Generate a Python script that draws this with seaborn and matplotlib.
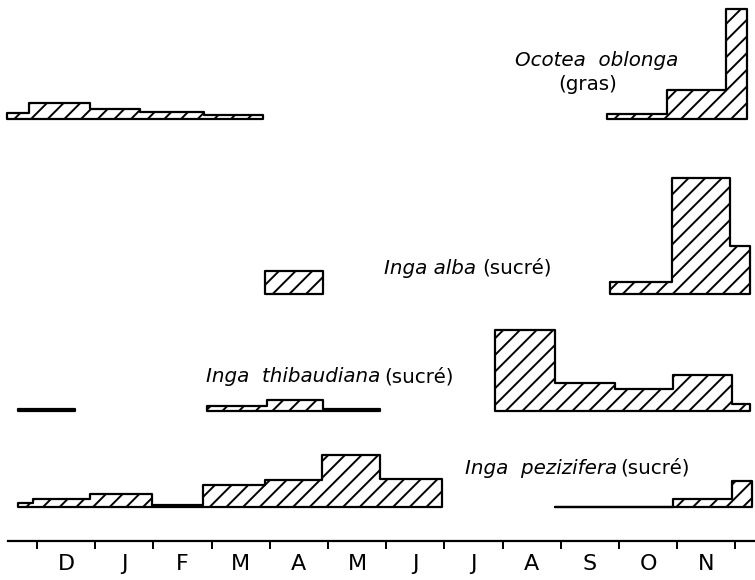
import matplotlib
matplotlib.use("Agg")
import matplotlib.pyplot as plt
import seaborn as sns
import numpy as np
import pandas as pd

sns.set_theme(style="white")
plt.rcParams['font.family'] = ['DejaVu Sans']
plt.rcParams['hatch.linewidth'] = 1.4

# ---- data (x in months, D = 0 ... N = 11; heights in arbitrary units) ----
months = ["D", "J", "F", "M", "A", "M", "J", "J", "A", "S", "O", "N"]

ocotea_left_edges = [-0.52, -0.14, 0.91, 1.77, 2.87, 3.88]
ocotea_left_vals = [6, 16, 10, 7, 4.5]
ocotea_right_edges = [9.79, 10.82, 11.84, 12.2]
ocotea_right_vals = [5, 29, 110]

alba_mid_edges = [3.92, 4.91]
alba_mid_vals = [23]
alba_right_edges = [9.85, 10.91, 11.91, 12.25]
alba_right_vals = [12, 116, 48]

thib_left_edges = [-0.33, 0.65]
thib_left_vals = [2.5]
thib_mid_edges = [2.92, 3.95, 4.91, 5.89]
thib_mid_vals = [5, 11, 2.5]
thib_right_edges = [7.87, 8.9, 9.93, 10.93, 11.94, 12.25]
thib_right_vals = [81, 28, 22, 36, 7]

pez_left_edges = [-0.33, -0.07, 0.91, 1.98, 2.85, 3.92, 4.90, 5.89, 6.96]
pez_left_vals = [4, 8, 13, 2, 22, 27, 52, 28]
pez_right_edges = [8.9, 10.93, 11.94, 12.29]
pez_right_vals = [0, 8, 26]

W, H = 755, 580
X0, X1 = -0.636, 12.337

fig = plt.figure(figsize=(W / 100, H / 100), dpi=100)


def row_axes(base_px):
    ax = fig.add_axes([0, (H - (base_px + 5)) / H, 1, 140 / H])
    return ax


def draw(ax, edges, vals):
    edges = [float(e) for e in edges]
    centers = [(a + b) / 2 for a, b in zip(edges[:-1], edges[1:])]
    df = pd.DataFrame({"x": centers, "w": [float(v) for v in vals]})
    sns.histplot(data=df, x="x", weights="w", bins=edges, element="step",
                 fill=True, facecolor="white", edgecolor="black",
                 linewidth=1.6, hatch="//", ax=ax, legend=False)


rows = [
    (119, [(ocotea_left_edges, ocotea_left_vals), (ocotea_right_edges, ocotea_right_vals)]),
    (294, [(alba_mid_edges, alba_mid_vals), (alba_right_edges, alba_right_vals)]),
    (411, [(thib_left_edges, thib_left_vals), (thib_mid_edges, thib_mid_vals),
           (thib_right_edges, thib_right_vals)]),
    (507, [(pez_left_edges, pez_left_vals), (pez_right_edges, pez_right_vals)]),
]
for base, segs in rows:
    ax = row_axes(base)
    for e, v in segs:
        draw(ax, e, v)
    ax.set_xlim(X0, X1)
    ax.set_ylim(-5, 135)
    ax.set_axis_off()

# ---- month axis ----
axm = fig.add_axes([0, (H - 541) / H, 1, 0.001])
axm.set_xlim(X0, X1)
for s in ["top", "left", "right"]:
    axm.spines[s].set_visible(False)
axm.spines["bottom"].set_bounds(-0.5, X1)
axm.spines["bottom"].set_linewidth(1.6)
axm.spines["bottom"].set_color("black")
axm.set_yticks([])
axm.set_xticks(np.arange(0, 13))
axm.set_xticklabels([])
axm.set_xticks(np.arange(12) + 0.5, minor=True)
axm.set_xticklabels(months, minor=True, fontsize=16)
axm.tick_params(axis="x", which="major", direction="out", length=6, width=1.4,
                color="black", bottom=True)
axm.tick_params(axis="x", which="minor", length=0, pad=9, labelcolor="black")


def ftext(x, y, s, **kw):
    fig.text(x / W, 1 - y / H, s, va="center", fontsize=14.3, color="black", **kw)


ftext(597, 60, "Ocotea  oblonga", ha="center", style="italic")
ftext(588, 84, "(gras)", ha="center")
ftext(476, 268, "Inga alba", ha="right", style="italic")
ftext(482, 268, "(sucré)", ha="left")
ftext(380, 377, "Inga  thibaudiana", ha="right", style="italic")
ftext(384, 377, "(sucré)", ha="left")
ftext(617, 468, "Inga  pezizifera", ha="right", style="italic")
ftext(620, 468, "(sucré)", ha="left")

fig.savefig("out.png", dpi=100)
